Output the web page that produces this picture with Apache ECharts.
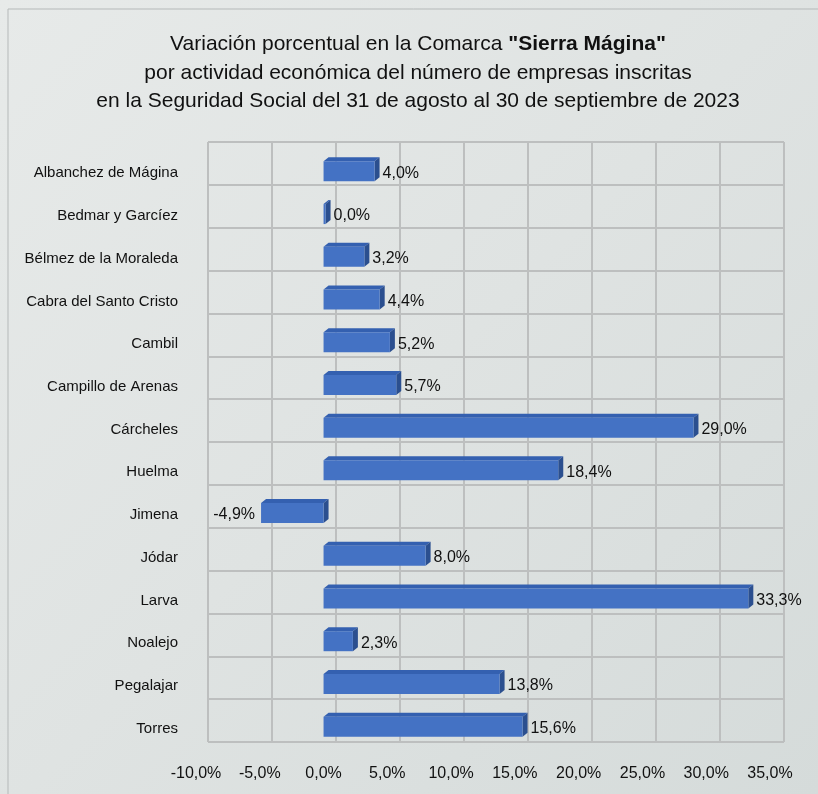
<!DOCTYPE html>
<html><head><meta charset="utf-8">
<script src="https://cdn.jsdelivr.net/npm/echarts@6/dist/echarts.min.js"></script>
<style>html,body{margin:0;padding:0;}#c{width:818px;height:794px;}</style>
</head><body><div id="c"></div>
<script>
const categories = ["Albanchez de Mágina","Bedmar y Garcíez","Bélmez de la Moraleda","Cabra del Santo Cristo","Cambil","Campillo de Arenas","Cárcheles","Huelma","Jimena","Jódar","Larva","Noalejo","Pegalajar","Torres"];
const values = [4.0, 0.0, 3.2, 4.4, 5.2, 5.7, 29.0, 18.4, -4.9, 8.0, 33.3, 2.3, 13.8, 15.6];
const xMin = -10, xMax = 35, xStep = 5;
const titleText = 'Variación porcentual en la Comarca {b|"Sierra Mágina"}\npor actividad económica del número de empresas inscritas\nen la Seguridad Social del 31 de agosto al 30 de septiembre de 2023';

const FONT = "'Liberation Sans',Arial,sans-serif";
const fmt = v => v.toFixed(1).replace('.', ',') + '%';
const chart = echarts.init(document.getElementById('c'));

function renderBar(params, api) {
  const cat = api.value(0), v = api.value(1);
  const p0 = api.coord([0, cat]);
  const p1 = api.coord([v, cat]);
  const h = 20, dx = 5, dy = -4;
  const yTop = p0[1] - h / 2 - 2;
  let x0 = Math.min(p0[0], p1[0]), x1 = Math.max(p0[0], p1[0]);
  if (x1 - x0 < 2) x1 = x0 + 2;
  const label = fmt(v);
  return {
    type: 'group',
    children: [
      {type:'polygon', shape:{points:[[x0,yTop],[x0+dx,yTop+dy],[x1+dx,yTop+dy],[x1,yTop]]}, style:{fill:'#3460b0'}},
      {type:'polygon', shape:{points:[[x1,yTop],[x1+dx,yTop+dy],[x1+dx,yTop+h+dy],[x1,yTop+h]]}, style:{fill:'#2b4f8f'}},
      {type:'rect', shape:{x:x0, y:yTop, width:x1-x0, height:h}, style:{fill:'#4472c4'}},
      {type:'text', style:{text: label, x: v < 0 ? x0 - 6 : x1 + dx + 3, y: yTop + h/2 + 2,
        align: v < 0 ? 'right' : 'left', verticalAlign:'middle', font: '16px ' + FONT, fill:'#111'}}
    ]
  };
}

chart.setOption({
  animation: false,
  backgroundColor: {type:'linear',x:0,y:0,x2:1,y2:1,colorStops:[{offset:0,color:'#e7eae9'},{offset:0.5,color:'#dfe3e2'},{offset:1,color:'#d5dbda'}]},
  graphic: [
    {type:'rect', shape:{x:8,y:9,width:830,height:800}, style:{fill:'none', stroke:'#b5b9b9', lineWidth:1}},
    {type:'text', x: 418, y: 30, style:{text: titleText, align:'center', verticalAlign:'top',
      fontFamily: FONT, fontSize: 21, fill:'#111', lineHeight: 28.5,
      rich: {b: {fontFamily: FONT, fontSize: 21, fontWeight: 'bold', fill: '#111', lineHeight: 28.5}}}}
  ],
  grid: [
    {left: 196, top: 152, width: 574, height: 598},
    {left: 208, top: 142, width: 576, height: 600}
  ],
  xAxis: [
    {type:'value', gridIndex:0, min:xMin, max:xMax, interval:xStep, splitLine:{show:false}, axisLine:{show:false}, axisTick:{show:false},
     axisLabel:{formatter: fmt, fontFamily: FONT, fontSize: 16, color:'#111', margin: 16}},
    {type:'value', gridIndex:1, min:xMin, max:xMax, interval:xStep, axisLabel:{show:false}, axisLine:{show:false}, axisTick:{show:false},
     splitLine:{show:true, lineStyle:{color:'#bdbfbf', width:2}}}
  ],
  yAxis: [
    {type:'category', gridIndex:0, data: categories, inverse:true, axisLine:{show:false}, axisTick:{show:false},
     axisLabel:{fontFamily: FONT, fontSize: 15, color:'#111', margin: 18}},
    {type:'category', gridIndex:1, data: categories, inverse:true, axisLine:{show:false}, axisTick:{show:false}, axisLabel:{show:false},
     splitLine:{show:true, lineStyle:{color:'#bdbfbf', width:2}}}
  ],
  series: [{
    type:'custom', xAxisIndex:0, yAxisIndex:0, renderItem: renderBar,
    encode: {x: 1, y: 0},
    data: values.map((v, i) => [i, v])
  }]
});
</script></body></html>
